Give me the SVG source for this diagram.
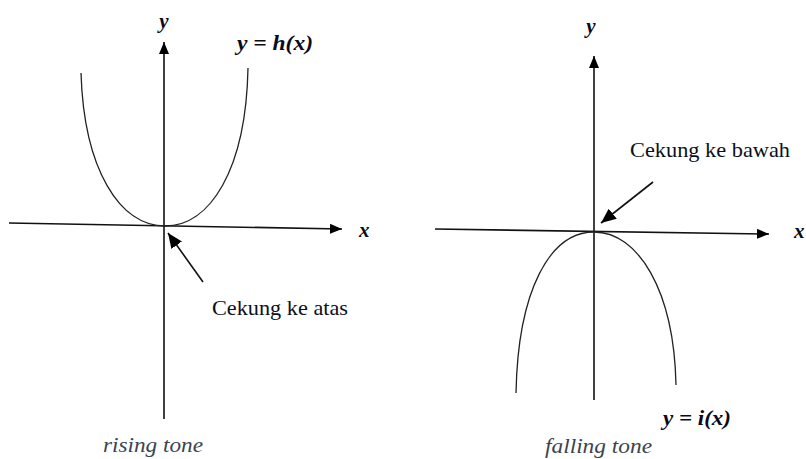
<svg xmlns="http://www.w3.org/2000/svg" width="806" height="459" viewBox="0 0 806 459">
<defs>
<marker id="ah" markerWidth="12" markerHeight="10" refX="12" refY="5" orient="auto" markerUnits="userSpaceOnUse">
<path d="M0,0 L12,5 L0,10 Z" fill="#000"/>
</marker>
<marker id="ah2" markerWidth="15" markerHeight="13" refX="15" refY="6.5" orient="auto" markerUnits="userSpaceOnUse">
<path d="M0,0 L15,6.5 L0,13 Z" fill="#000"/>
</marker>
<style>
.ax{stroke:#111;stroke-width:1.6;fill:none}
.cv{stroke:#222;stroke-width:1.3;fill:none}
.lbl{font-family:"Liberation Serif",serif;font-weight:bold;font-style:italic;font-size:21px;fill:#0a0a1a}
.note{font-family:"Liberation Serif",serif;font-size:21.5px;fill:#0a1020}
.cap{font-family:"Liberation Serif",serif;font-style:italic;font-size:22px;fill:#3a4450}
</style>
</defs>
<rect width="806" height="459" fill="#fff"/>
<g id="connectors">
<line class="ax" x1="164" y1="419" x2="164" y2="42" marker-end="url(#ah)"/>
<line class="ax" x1="9" y1="223" x2="342" y2="229" marker-end="url(#ah)"/>
<line class="ax" x1="594" y1="400" x2="594" y2="56" marker-end="url(#ah)"/>
<line class="ax" x1="435" y1="229" x2="769" y2="234" marker-end="url(#ah)"/>
<line class="ax" x1="203" y1="282" x2="168" y2="233" marker-end="url(#ah2)"/>
<line class="ax" x1="653" y1="182" x2="601" y2="223" marker-end="url(#ah2)"/>
</g>
<g id="curve-h">
<path class="cv" d="M81,73 C84,170 120,226 165,226 C210,226 246,170 248,68"/>
</g>
<g id="curve-i">
<path class="cv" d="M516,393 C518,290 550,232 594,232 C638,232 674,290 676,385"/>
</g>
<g id="labels-left">
<text class="lbl" x="164" y="28" text-anchor="middle">y</text>
<text class="lbl" x="237" y="50" textLength="76" lengthAdjust="spacingAndGlyphs">y = h(x)</text>
<text class="lbl" x="359" y="237">x</text>
<text class="note" x="212" y="315" textLength="136" lengthAdjust="spacingAndGlyphs">Cekung ke atas</text>
<text class="cap" x="103" y="452" textLength="100" lengthAdjust="spacingAndGlyphs">rising tone</text>
</g>
<g id="labels-right">
<text class="lbl" x="591" y="33" text-anchor="middle">y</text>
<text class="lbl" x="663" y="425" textLength="68" lengthAdjust="spacingAndGlyphs">y = i(x)</text>
<text class="lbl" x="794" y="238">x</text>
<text class="note" x="630" y="157" textLength="160" lengthAdjust="spacingAndGlyphs">Cekung ke bawah</text>
<text class="cap" x="545" y="453" textLength="107" lengthAdjust="spacingAndGlyphs">falling tone</text>
</g>
</svg>
